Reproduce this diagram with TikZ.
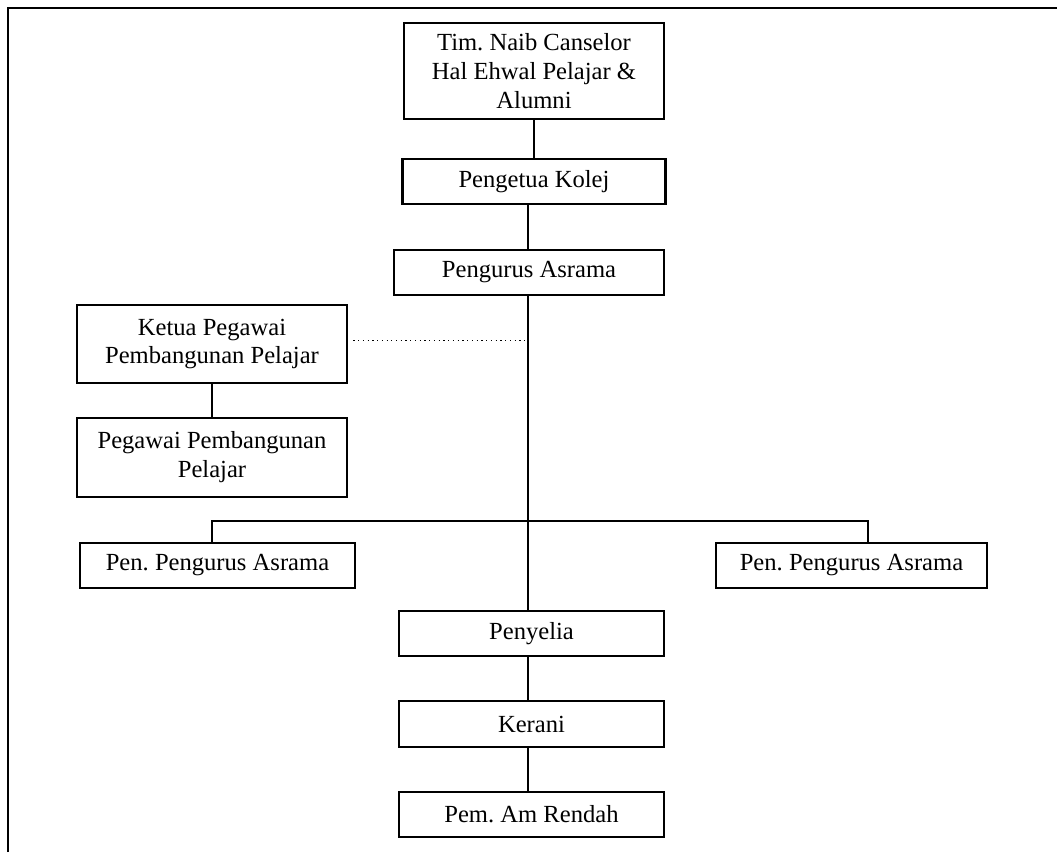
\documentclass[tikz,border=0pt]{standalone}
\usepackage{fontspec}
\setmainfont{Liberation Serif}
\frenchspacing
\usetikzlibrary{positioning}
\begin{document}
\begin{tikzpicture}[x=0.02cm,y=-0.02cm,
    box/.style={draw,line width=1.2pt,align=center,inner sep=0pt,
        font=\fontsize{14}{16.5}\selectfont},
    link/.style={line width=1.2pt}]
        \useasboundingbox (0,0) rectangle (1057,852);
        \draw[line width=1.7pt] (8,852) -- (8,8) -- (1057,8);

        \node[box,minimum width=5.2cm,minimum height=1.92cm] (tnc) at (534,71) {Tim. Naib Canselor\\Hal Ehwal Pelajar \&\\Alumni};
        \node[box,minimum width=5.26cm,minimum height=0.9cm] (pk) at (534,181.5) {Pengetua Kolej};
        \node[box,minimum width=5.4cm,minimum height=0.9cm] (pa) at (529,272.5) {Pengurus Asrama};
        \node[box,minimum width=5.4cm,minimum height=1.56cm] (kpp) at (212,344) {Ketua Pegawai\\Pembangunan Pelajar};
        \node[box,minimum width=5.4cm,minimum height=1.58cm] (ppp) at (212,457.5) {Pegawai Pembangunan\\Pelajar};
        \node[box,minimum width=5.5cm,minimum height=0.9cm] (ppa1) at (217.5,565.5) {Pen. Pengurus Asrama};
        \node[box,minimum width=5.42cm,minimum height=0.9cm] (ppa2) at (851.5,565.5) {Pen. Pengurus Asrama};
        \node[box,minimum width=5.3cm,minimum height=0.9cm] (pny) at (531.5,633.5) {Penyelia};
        \node[box,minimum width=5.3cm,minimum height=0.92cm] (krn) at (531.5,724) {Kerani};
        \node[box,minimum width=5.3cm,minimum height=0.9cm] (par) at (531.5,814.5) {Pem. Am Rendah};

        \coordinate (trunk) at (528,340);
        \coordinate (barL) at (212,521);
        \coordinate (barR) at (868,521);

        \draw[link] (tnc) -- (pk);
        \draw[link] (pk.south -| trunk) -- (pa.north -| trunk);
        \draw[link] (pa.south -| trunk) -- (pny.north -| trunk);
        \draw[link] (pny.south -| trunk) -- (krn.north -| trunk);
        \draw[link] (krn.south -| trunk) -- (par.north -| trunk);
        \draw[link] (kpp) -- (ppp);
        \draw[dotted,line width=0.7pt] ([xshift=3pt,yshift=2pt]kpp.east) -- ([yshift=2pt]kpp.east -| trunk);
        \draw[link] (ppa1.north -| barL) -- (barL) -- (barR) -- (ppa2.north -| barR);
\end{tikzpicture}
\end{document}
